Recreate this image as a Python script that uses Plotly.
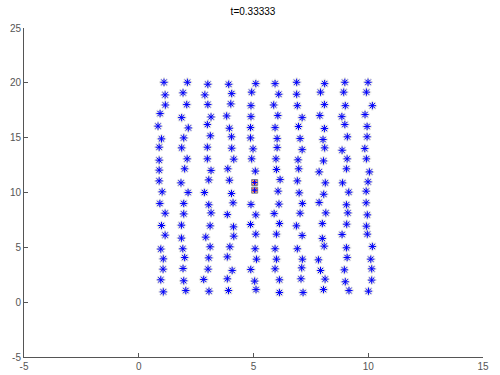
import plotly.graph_objects as go

title_text = "t=0.33333"
x_ticks = [-5, 0, 5, 10, 15]
y_ticks = [-5, 0, 5, 10, 15, 20, 25]

# asterisk points, row by row (top row first)
xs_rows = [
    [1.10, 2.12, 3.01, 3.92, 5.10, 5.94, 6.88, 8.10, 8.98, 9.99],
    [1.15, 1.93, 2.88, 4.05, 4.92, 6.10, 6.88, 7.92, 8.93, 9.92],
    [1.16, 2.09, 3.01, 4.01, 4.89, 5.88, 6.91, 8.09, 9.00, 10.18],
    [0.93, 1.87, 3.15, 3.83, 4.89, 6.06, 7.12, 7.89, 8.85, 9.86],
    [0.84, 2.16, 2.99, 3.95, 4.87, 5.94, 6.96, 8.09, 8.98, 9.95],
    [0.99, 1.96, 3.12, 4.04, 4.87, 6.03, 7.03, 8.03, 9.09, 9.95],
    [0.89, 1.87, 2.99, 4.05, 4.98, 6.03, 7.12, 8.10, 8.86, 9.85],
    [0.89, 2.11, 2.99, 4.14, 4.92, 5.98, 6.94, 8.05, 9.08, 9.92],
    [0.89, 2.00, 3.15, 3.88, 5.08, 6.00, 6.97, 7.86, 9.05, 10.05],
    [0.89, 1.84, 3.05, 3.95, 6.16, 6.91, 8.13, 8.88, 9.99],
    [1.02, 2.15, 2.86, 4.04, 6.07, 6.99, 8.06, 9.15, 9.91],
    [0.92, 1.96, 3.05, 4.11, 4.89, 6.11, 7.13, 7.86, 9.05, 9.91],
    [1.15, 1.96, 3.15, 3.86, 5.10, 5.90, 7.03, 8.15, 9.11, 9.96],
    [0.99, 1.86, 3.11, 4.13, 4.87, 6.13, 6.87, 8.00, 9.06, 9.92],
    [1.15, 1.86, 2.92, 4.14, 5.10, 6.00, 7.12, 8.00, 8.86, 9.96],
    [0.96, 1.92, 3.11, 3.97, 5.07, 5.94, 6.91, 8.08, 9.05, 10.18],
    [1.07, 2.00, 3.05, 3.86, 5.13, 6.00, 7.13, 7.83, 9.08, 10.11],
    [1.06, 1.93, 3.02, 4.07, 4.88, 5.94, 7.10, 7.92, 8.96, 10.15],
    [0.96, 1.96, 2.83, 3.86, 5.05, 6.13, 7.07, 8.12, 9.00, 10.15],
    [1.07, 2.05, 3.06, 3.91, 5.11, 6.13, 7.16, 8.05, 9.16, 10.01],
]
ys_rows = [
    [20.05, 20.05, 19.87, 19.87, 19.93, 19.93, 20.05, 19.93, 20.05, 20.05],
    [18.90, 19.09, 18.90, 19.02, 19.15, 18.96, 18.96, 19.15, 19.15, 19.15],
    [17.98, 18.02, 18.02, 18.08, 17.92, 17.98, 17.92, 18.02, 17.92, 17.92],
    [17.20, 16.83, 16.89, 16.98, 16.92, 17.02, 16.83, 17.02, 16.92, 17.11],
    [16.05, 15.89, 16.20, 15.86, 15.92, 15.92, 16.02, 15.83, 16.20, 16.02],
    [14.89, 14.98, 15.17, 15.08, 14.98, 14.92, 14.92, 14.83, 15.08, 15.08],
    [14.13, 14.07, 14.13, 14.04, 13.98, 14.10, 13.91, 14.07, 13.85, 14.01],
    [12.95, 13.07, 13.07, 13.04, 13.07, 13.07, 12.98, 12.88, 13.07, 13.07],
    [12.04, 12.16, 12.01, 12.16, 11.95, 12.10, 12.16, 11.88, 12.16, 11.88],
    [11.06, 10.88, 11.15, 11.12, 11.18, 11.06, 10.88, 10.88, 10.97],
    [10.06, 10.00, 10.00, 9.91, 10.12, 9.97, 9.84, 10.03, 10.12],
    [9.00, 9.00, 8.88, 9.06, 8.91, 8.94, 9.00, 9.09, 8.88, 9.06],
    [8.11, 8.05, 8.14, 7.99, 7.96, 8.08, 8.11, 8.14, 8.14, 7.96],
    [6.99, 7.02, 6.96, 6.87, 7.08, 7.17, 6.96, 7.17, 7.11, 6.93],
    [6.11, 5.84, 5.93, 6.02, 6.20, 6.20, 6.08, 5.81, 6.17, 6.20],
    [4.84, 4.87, 5.05, 5.05, 4.87, 4.87, 4.87, 5.11, 4.96, 5.08],
    [3.95, 4.07, 4.04, 4.13, 3.92, 3.92, 3.92, 3.86, 4.07, 3.92],
    [3.01, 3.07, 3.01, 2.89, 2.98, 3.04, 3.13, 2.89, 2.95, 3.04],
    [2.04, 1.95, 2.07, 2.13, 1.92, 2.04, 2.13, 2.10, 1.86, 2.01],
    [0.94, 1.06, 1.00, 1.06, 1.15, 0.88, 0.88, 1.15, 1.06, 1.00],
]

# special (square) points
sq_x = [5.05, 5.05]
sq_y = [10.91, 10.21]

px = [v for row in xs_rows for v in row]
py = [v for row in ys_rows for v in row]

fig = go.Figure()
# light grey halo
fig.add_trace(go.Scatter(
    x=px, y=py, mode="markers", hoverinfo="skip",
    marker=dict(symbol="asterisk-open", size=8, color="rgba(200,200,200,0.6)",
                line=dict(width=2, color="rgba(200,200,200,0.6)")),
))
fig.add_trace(go.Scatter(
    x=px, y=py, mode="markers",
    marker=dict(symbol="asterisk-open", size=6, color="#0000ff",
                line=dict(width=1, color="#0000ff")),
))
fig.add_trace(go.Scatter(
    x=sq_x, y=sq_y, mode="markers",
    marker=dict(symbol="square", size=6, color="#c4c4c4",
                line=dict(width=1, color="#808080")),
))
fig.add_trace(go.Scatter(
    x=sq_x, y=sq_y, mode="markers",
    marker=dict(symbol="x-thin-open", size=4, color="#ff0000",
                line=dict(width=1, color="#ff0000")),
))
fig.add_trace(go.Scatter(
    x=sq_x, y=sq_y, mode="markers",
    marker=dict(symbol="cross-thin-open", size=4, color="#0000ff",
                line=dict(width=1.2, color="#0000ff")),
))

axis_common = dict(
    showgrid=False, zeroline=False, showline=True, linecolor="#555555", linewidth=1,
    ticks="inside", ticklen=4, tickcolor="#555555", tickwidth=1, automargin=False,
    tickfont=dict(family="Liberation Sans, Arial, sans-serif", size=10, color="#555555"),
)
fig.update_layout(
    width=500, height=375,
    margin=dict(l=24, r=17, t=28, b=18),
    paper_bgcolor="white", plot_bgcolor="white",
    showlegend=False,
    title=dict(text=title_text, x=0.506, xanchor="center", y=0.98, yanchor="top",
               font=dict(family="Liberation Sans, Arial, sans-serif", size=10, color="#000000")),
    xaxis=dict(range=[-5, 15], tickvals=x_ticks, ticktext=[str(v) for v in x_ticks], **axis_common),
    yaxis=dict(range=[-5, 25], tickvals=y_ticks, ticktext=[str(v) for v in y_ticks], **axis_common),
)
fig.write_html("out.html")
